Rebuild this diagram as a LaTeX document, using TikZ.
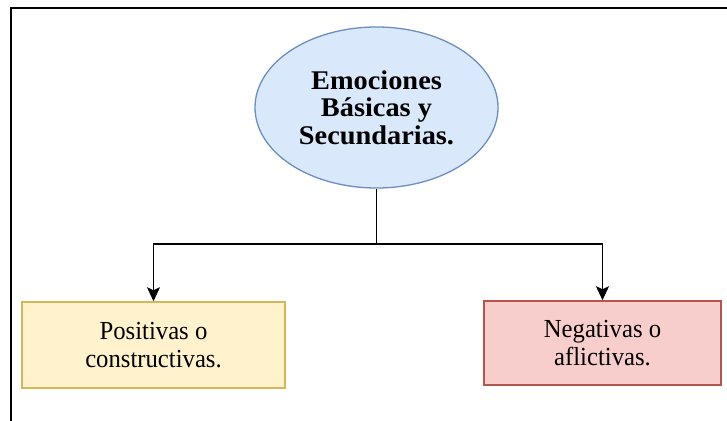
\documentclass[tikz,border=0pt]{standalone}
\usepackage{fontspec}
\setmainfont{Liberation Serif}
\newfontfamily\regf[FakeStretch=0.95]{Liberation Serif}
\newfontfamily\boldf[FakeStretch=1.05]{Liberation Serif}
\usetikzlibrary{arrows.meta,shapes.geometric}
\definecolor{ellfill}{HTML}{DAE8FC}
\definecolor{elldraw}{HTML}{6C8EBF}
\definecolor{posfill}{HTML}{FFF2CC}
\definecolor{posdraw}{HTML}{D6B656}
\definecolor{negfill}{HTML}{F8CECC}
\definecolor{negdraw}{HTML}{B85450}
\tikzset{
  boxstyle/.style={draw, line width=1.5pt, minimum height=86pt, align=center, inner sep=0pt,
    font=\regf\fontsize{26}{28}\selectfont},
  conn/.style={line width=1.3pt, draw=black},
  arr/.style={conn, -{Stealth[length=14pt,width=13pt,inset=3pt]}}
}
\begin{document}
\begin{tikzpicture}[x=1pt,y=-1pt]
\useasboundingbox (0,0) rectangle (727,420);
\draw[line width=2pt] (727,8) -- (11,8) -- (11,421);
\node[ellipse, draw=elldraw, fill=ellfill, line width=1.3pt, minimum width=243pt, minimum height=161pt,
  align=center, inner sep=0pt, font=\boldf\bfseries\fontsize{27}{27.5}\selectfont] (emo) at (376.5,107.5)
  {Emociones\\Básicas y\\Secundarias.};
\node[boxstyle, fill=posfill, draw=posdraw, minimum width=263pt] (pos) at (153.5,345) {Positivas o\\constructivas.};
\node[boxstyle, fill=negfill, draw=negdraw, minimum width=237pt, minimum height=84pt] (neg) at (602.5,343) {Negativas o\\aflictivas.};
\coordinate (j) at (376.5,244);
\draw[conn] (emo.south) -- (j);
\draw[arr] (j) -| (pos.north);
\draw[arr] (j) -| (neg.north);
\end{tikzpicture}
\end{document}
